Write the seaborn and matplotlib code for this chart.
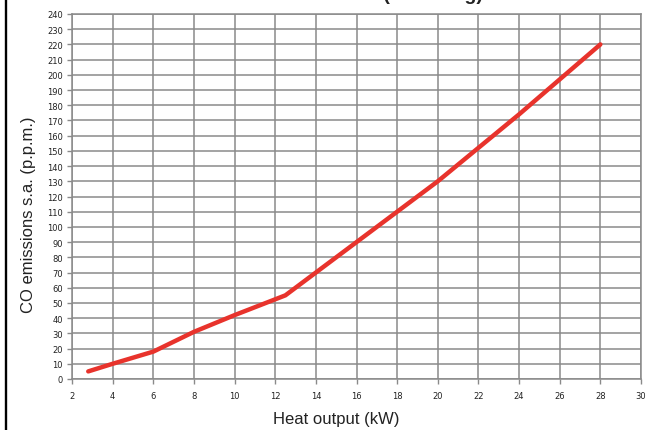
import matplotlib
matplotlib.use("Agg")
import matplotlib.pyplot as plt
from matplotlib.lines import Line2D
import seaborn as sns
import pandas as pd

# heat output (kW) vs CO emissions (ppm)
heat_output = [2.8, 4, 6, 8, 10, 12.5, 14, 16, 18, 20, 22, 24, 26, 28]
co_ppm = [5, 10, 18, 31, 42, 55, 70, 90, 110, 130, 152, 174, 197, 220]
x_ticks = list(range(2, 31, 2))
y_ticks = list(range(0, 241, 10))

df = pd.DataFrame({"heat": heat_output, "co": co_ppm})

sns.set_style("white")
plt.rcParams["font.family"] = ["Liberation Sans", "DejaVu Sans"]

fig = plt.figure(figsize=(6.5, 4.31), dpi=100)
ax = fig.add_axes([72 / 650, 51 / 431, 569 / 650, 365 / 431])

sns.lineplot(data=df, x="heat", y="co", ax=ax, color="#e8332c", linewidth=3.2,
             solid_capstyle="round", zorder=3)

ax.set_xlim(2, 30)
ax.set_ylim(0, 240)
ax.set_xticks(x_ticks)
ax.set_yticks(y_ticks)
ax.grid(True, color="#8a8a8a", linewidth=1.1)
for sp in ax.spines.values():
    sp.set_color("#8a8a8a")
    sp.set_linewidth(1.1)

tick_font = {"family": ["Liberation Sans Narrow", "DejaVu Sans"], "size": 6}
ax.set_xticklabels([str(t) for t in x_ticks], fontdict=tick_font)
ax.set_yticklabels([str(t) for t in y_ticks], fontdict=tick_font)
ax.tick_params(axis="both", direction="out", length=3.5, width=1, color="#8a8a8a",
               labelcolor="#222222", left=True, bottom=True)
ax.tick_params(axis="y", pad=3)
ax.tick_params(axis="x", pad=5)

ax.set_xlabel("Heat output (kW)", fontsize=12, color="#222222", va="center")
ax.xaxis.set_label_coords(0.464, -0.107)
ax.set_ylabel("CO emissions s.a. (p.p.m.)", fontsize=12, color="#222222", va="center")
ax.yaxis.set_label_coords(-0.077, 0.452)

# title sits mostly above the visible area in the reference
fig.text(483 / 650, 1.0, "CO EMISSIONS (20 mbarg)", ha="right", va="baseline",
         fontsize=14, fontweight="bold", color="#222222")

# black frame line on the left edge
fig.add_artist(Line2D([6 / 650, 6 / 650], [0, 1], color="black", linewidth=1.7,
                      transform=fig.transFigure))

fig.savefig("out.png", dpi=100)
